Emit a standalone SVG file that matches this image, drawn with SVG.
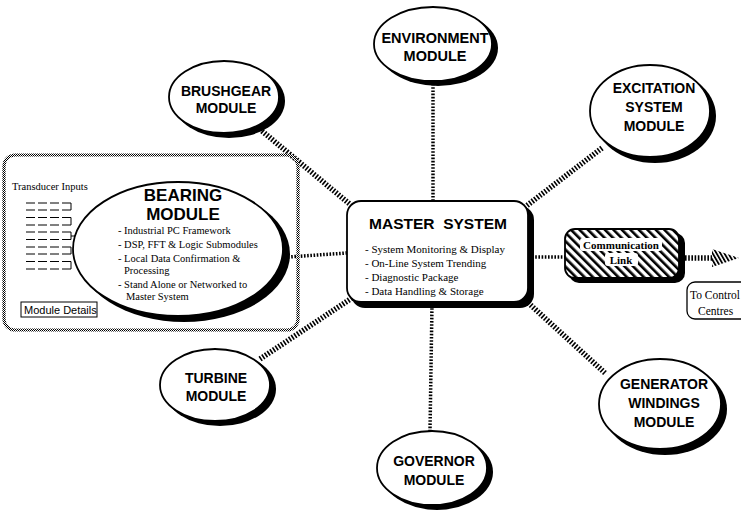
<svg xmlns="http://www.w3.org/2000/svg" width="741" height="516" viewBox="0 0 741 516">
  <defs>
    <pattern id="checker" width="2" height="2" patternUnits="userSpaceOnUse">
      <rect width="2" height="2" fill="#fff"/>
      <rect width="1" height="1" fill="#000"/>
      <rect x="1" y="1" width="1" height="1" fill="#000"/>
    </pattern>
    <pattern id="hatch" width="6" height="6" patternUnits="userSpaceOnUse" patternTransform="rotate(-45)">
      <rect width="6" height="6" fill="#fff"/>
      <rect width="2.6" height="6" fill="#000"/>
    </pattern>
    <pattern id="hatchFine" width="3.4" height="3.4" patternUnits="userSpaceOnUse" patternTransform="rotate(-30)">
      <rect width="3.4" height="3.4" fill="#fff"/>
      <rect width="1.8" height="3.4" fill="#000"/>
    </pattern>
    <style>
      .shadow { fill: #000; }
      .body { fill: #fff; stroke: #000; stroke-width: 1.8; }
      .title { font-family: "Liberation Sans", Arial, sans-serif; font-weight: bold; fill: #000; text-anchor: middle; }
      .serif { font-family: "Liberation Serif", "Times New Roman", serif; fill: #000; }
      .rope { fill: none; stroke: #000; stroke-width: 5.5; stroke-dasharray: 1.6 1.6; }
      .thin { fill: none; stroke: #000; stroke-width: 3.5; stroke-dasharray: 1.6 1.6; }
      .dash { stroke: #000; stroke-width: 1; stroke-dasharray: 9 3; }
    </style>
  </defs>
  <rect width="741" height="516" fill="#fff"/>

  <!-- connectors -->
  <g id="connectors">
    <line class="rope" x1="262" y1="131" x2="352" y2="206"/>
    <line class="thin" x1="433" y1="84" x2="433" y2="201"/>
    <line class="rope" x1="602" y1="148" x2="525" y2="207"/>
    <line class="thin" x1="288" y1="257" x2="347" y2="253"/>
    <line class="rope" x1="260" y1="359" x2="352" y2="298"/>
    <line class="thin" x1="432" y1="305" x2="430" y2="431"/>
    <line class="rope" x1="605" y1="373" x2="524" y2="299"/>
    <line class="thin" x1="532" y1="257" x2="566" y2="257"/>
    <line class="rope" x1="685" y1="258" x2="716" y2="258"/>
    <polygon points="712,249 739,258 712,267" fill="url(#hatchFine)"/>
  </g>

  <!-- module details panel with bearing module -->
  <g id="bearing-panel">
    <rect x="4" y="155" width="294" height="175" rx="11" fill="none" stroke="url(#checker)" stroke-width="3.2"/>
    <text class="serif" x="12" y="190" font-size="10.5">Transducer Inputs</text>
    <g id="transducer-inputs">
      <line class="dash" x1="26" y1="203" x2="71" y2="203"/>
      <line class="dash" x1="26" y1="210" x2="71" y2="210"/>
      <line class="dash" x1="26" y1="217.5" x2="71" y2="217.5"/>
      <line class="dash" x1="26" y1="225" x2="71" y2="225"/>
      <line class="dash" x1="26" y1="232" x2="71" y2="232"/>
      <line class="dash" x1="26" y1="239.5" x2="71" y2="239.5"/>
      <line class="dash" x1="26" y1="247" x2="71" y2="247"/>
      <line class="dash" x1="26" y1="254" x2="71" y2="254"/>
      <line class="dash" x1="26" y1="261.5" x2="71" y2="261.5"/>
      <line class="dash" x1="26" y1="269" x2="71" y2="269"/>
      <path d="M71 203 V210 M71 217.5 V225 M71 232 V239.5 M71 247 V254 M71 261.5 V269 M71 236 H78" fill="none" stroke="#000" stroke-width="1"/>
    </g>
    <rect x="21" y="302" width="76" height="15" fill="#fff" stroke="#000" stroke-width="1"/>
    <text x="24" y="314" font-family="Liberation Sans, Arial, sans-serif" font-size="11" fill="#000">Module Details</text>
    <g id="bearing">
      <ellipse class="shadow" cx="184" cy="254" rx="106" ry="68"/>
      <ellipse class="body" cx="178" cy="249" rx="105" ry="67"/>
      <text class="title" x="183" y="201" font-size="17">BEARING</text>
      <text class="title" x="183" y="220" font-size="17">MODULE</text>
      <text class="serif" x="118" y="234" font-size="10.5">- Industrial PC Framework</text>
      <text class="serif" x="118" y="248" font-size="10.5">- DSP, FFT &amp; Logic Submodules</text>
      <text class="serif" x="118" y="262" font-size="10.5">- Local Data Confirmation &amp;</text>
      <text class="serif" x="124" y="274" font-size="10.5">Processing</text>
      <text class="serif" x="118" y="288" font-size="10.5">- Stand Alone or Networked to</text>
      <text class="serif" x="126" y="300" font-size="10.5">Master System</text>
    </g>
  </g>

  <g id="brushgear">
    <ellipse class="shadow" cx="229" cy="101" rx="56" ry="37"/>
    <ellipse class="body" cx="224" cy="97" rx="55" ry="36"/>
    <text class="title" x="226" y="96" font-size="14">BRUSHGEAR</text>
    <text class="title" x="226" y="113" font-size="14">MODULE</text>
  </g>

  <g id="environment">
    <ellipse class="shadow" cx="438" cy="48" rx="60" ry="38"/>
    <ellipse class="body" cx="433" cy="44" rx="59" ry="37"/>
    <text class="title" x="435" y="43" font-size="14.5">ENVIRONMENT</text>
    <text class="title" x="435" y="61" font-size="14.5">MODULE</text>
  </g>

  <g id="excitation">
    <ellipse class="shadow" cx="655" cy="116" rx="61" ry="47"/>
    <ellipse class="body" cx="650" cy="111" rx="60" ry="46"/>
    <text class="title" x="654" y="93" font-size="14">EXCITATION</text>
    <text class="title" x="654" y="112" font-size="14">SYSTEM</text>
    <text class="title" x="654" y="131" font-size="14">MODULE</text>
  </g>

  <g id="master-system">
    <rect x="351" y="206" width="183" height="102" rx="14" fill="#000"/>
    <rect class="body" x="347" y="201" width="181" height="101" rx="14"/>
    <text class="title" x="438" y="229" font-size="15.5">MASTER&#160; SYSTEM</text>
    <text class="serif" x="365" y="253" font-size="11">- System Monitoring &amp; Display</text>
    <text class="serif" x="365" y="267" font-size="11">- On-Line System Trending</text>
    <text class="serif" x="365" y="281" font-size="11">- Diagnostic Package</text>
    <text class="serif" x="365" y="295" font-size="11">- Data Handling &amp; Storage</text>
  </g>

  <g id="communication-link">
    <rect x="569" y="233" width="116" height="50" rx="10" fill="#000"/>
    <rect x="565" y="229" width="114" height="49" rx="10" fill="url(#hatch)" stroke="#000" stroke-width="1.8"/>
    <rect x="580" y="238" width="82" height="13" rx="3" fill="#fff"/>
    <rect x="605" y="253" width="33" height="13" rx="3" fill="#fff"/>
    <text class="serif" x="621" y="249" font-size="11" font-weight="bold" text-anchor="middle">Communication</text>
    <text class="serif" x="621" y="264" font-size="11" font-weight="bold" text-anchor="middle">Link</text>
  </g>

  <g id="control-centres">
    <rect x="687" y="282" width="62" height="37" rx="8" fill="#fff" stroke="#000" stroke-width="1.3"/>
    <text class="serif" x="690" y="299" font-size="11.5">To Control</text>
    <text class="serif" x="698" y="315" font-size="11.5">Centres</text>
  </g>

  <g id="turbine">
    <ellipse class="shadow" cx="220" cy="389" rx="56" ry="37"/>
    <ellipse class="body" cx="215" cy="385" rx="55" ry="36"/>
    <text class="title" x="216" y="383" font-size="14">TURBINE</text>
    <text class="title" x="216" y="401" font-size="14">MODULE</text>
  </g>

  <g id="governor">
    <ellipse class="shadow" cx="437" cy="472" rx="56" ry="38"/>
    <ellipse class="body" cx="432" cy="468" rx="55" ry="37"/>
    <text class="title" x="434" y="466" font-size="14">GOVERNOR</text>
    <text class="title" x="434" y="485" font-size="14">MODULE</text>
  </g>

  <g id="generator-windings">
    <ellipse class="shadow" cx="665" cy="409" rx="62" ry="46"/>
    <ellipse class="body" cx="660" cy="404" rx="61" ry="45"/>
    <text class="title" x="664" y="389" font-size="14">GENERATOR</text>
    <text class="title" x="664" y="408" font-size="14">WINDINGS</text>
    <text class="title" x="664" y="427" font-size="14">MODULE</text>
  </g>
</svg>
